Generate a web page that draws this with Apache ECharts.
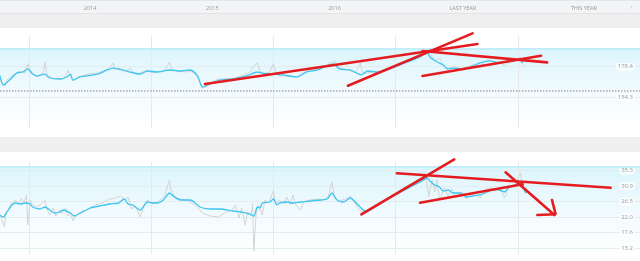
<!DOCTYPE html>
<html><head><meta charset="utf-8">
<script src="https://cdn.jsdelivr.net/npm/echarts@6/dist/echarts.min.js"></script>
<style>html,body{margin:0;padding:0;background:#fff}#c{width:640px;height:261px}</style>
</head><body><div id="c"></div>
<script>
// ---- period header labels ----
const periodLabels = ['2014', '2015', '2016', 'LAST YEAR', 'THIS YEAR'];
const periodLabelPos = [2014.5, 2015.5, 2016.5, 2017.55, 2018.54];
const yearStarts = [2014, 2015, 2016, 2017, 2018];

// ---- axis ticks ----
const priceTicks = [154.3, 178.4];
const peTicks = [13.2, 17.62, 22.04, 26.46, 30.88, 35.3];
const priceRange = [130.2, 202.5];
const peRange = [11.49, 38.01];
const timeRange = [2013.763, 2019.0];

// ---- reference levels ----
const priceDotted = 159.3;
const priceBandTop = 192.3;
const peBandTop = 36.35;

// ---- price (top) ----
const priceAvg = [[2013.76,171.9],[2013.79,164.0],[2013.85,168.7],[2013.90,173.4],[2013.95,174.2],[2013.99,176.6],[2014.03,172.6],[2014.07,171.1],[2014.13,172.6],[2014.17,169.5],[2014.25,168.7],[2014.31,170.3],[2014.34,172.6],[2014.36,167.9],[2014.42,170.3],[2014.56,172.6],[2014.64,175.8],[2014.69,177.3],[2014.77,175.8],[2014.83,174.2],[2014.91,172.6],[2014.97,175.0],[2015.05,174.2],[2015.10,175.0],[2015.15,175.8],[2015.24,175.0],[2015.32,175.8],[2015.38,171.1],[2015.42,162.4],[2015.48,164.8],[2015.56,167.9],[2015.67,168.7],[2015.78,171.1],[2015.87,174.2],[2015.91,173.4],[2016.00,172.6],[2016.08,171.9],[2016.19,170.3],[2016.27,174.2],[2016.36,175.8],[2016.49,180.5],[2016.54,176.6],[2016.63,175.8],[2016.68,173.4],[2016.72,171.9],[2016.77,175.0],[2016.85,174.2],[2016.93,175.8],[2017.01,178.9],[2017.12,182.9],[2017.20,186.0],[2017.26,189.9],[2017.28,186.0],[2017.34,182.1],[2017.39,179.7],[2017.43,176.6],[2017.47,177.3],[2017.53,176.6],[2017.61,178.1],[2017.69,181.3],[2017.77,182.9],[2017.85,181.3],[2017.91,182.1],[2018.02,183.6],[2018.04,181.3]];
const priceRaw = [[2013.76,171.1],[2013.78,166.3],[2013.80,163.2],[2013.82,167.9],[2013.85,170.3],[2013.88,172.6],[2013.91,174.2],[2013.94,175.0],[2013.97,173.4],[2013.99,180.5],[2014.01,175.8],[2014.03,173.4],[2014.06,170.3],[2014.09,171.9],[2014.12,174.2],[2014.13,182.1],[2014.15,170.3],[2014.17,171.1],[2014.21,168.7],[2014.24,169.5],[2014.27,167.9],[2014.30,171.1],[2014.32,175.8],[2014.34,171.1],[2014.36,167.1],[2014.39,169.5],[2014.42,171.1],[2014.46,171.9],[2014.50,172.6],[2014.56,173.4],[2014.61,175.0],[2014.65,176.6],[2014.67,178.9],[2014.69,181.3],[2014.70,176.6],[2014.75,175.8],[2014.79,174.2],[2014.83,177.3],[2014.85,173.4],[2014.89,172.6],[2014.93,174.2],[2014.97,175.8],[2015.01,173.4],[2015.05,175.0],[2015.09,174.2],[2015.12,176.6],[2015.15,182.1],[2015.17,175.8],[2015.22,175.0],[2015.28,174.2],[2015.32,175.0],[2015.36,172.6],[2015.39,167.9],[2015.42,161.6],[2015.46,163.2],[2015.50,166.3],[2015.54,168.7],[2015.58,168.7],[2015.63,168.7],[2015.69,169.5],[2015.73,171.1],[2015.77,172.6],[2015.81,174.2],[2015.84,178.9],[2015.87,181.3],[2015.89,175.0],[2015.93,172.6],[2015.97,174.2],[2016.00,180.5],[2016.02,174.2],[2016.05,171.1],[2016.09,171.1],[2016.14,171.1],[2016.19,170.3],[2016.23,172.6],[2016.27,175.0],[2016.32,175.8],[2016.36,176.6],[2016.42,178.1],[2016.46,181.3],[2016.50,182.9],[2016.53,178.1],[2016.57,176.6],[2016.61,175.8],[2016.65,174.2],[2016.68,175.0],[2016.71,181.3],[2016.73,173.4],[2016.77,173.4],[2016.82,174.2],[2016.87,175.0],[2016.93,176.6],[2016.99,178.9],[2017.08,182.1],[2017.16,185.2],[2017.22,188.4],[2017.26,190.7],[2017.29,187.6],[2017.32,182.9],[2017.36,185.2],[2017.39,178.9],[2017.42,175.8],[2017.44,177.3],[2017.49,178.9],[2017.53,175.8],[2017.57,178.1],[2017.61,178.9],[2017.65,180.5],[2017.69,178.9],[2017.73,182.1],[2017.77,183.6],[2017.81,180.5],[2017.85,182.1],[2017.89,178.9],[2017.94,182.9],[2017.98,183.6],[2018.02,186.0],[2018.03,181.3],[2018.06,178.1]];
const priceTrend = [
  [[2015.44,164.8],[2017.67,196.2]],
  [[2016.61,163.4],[2017.63,204.6]],
  [[2017.22,190.7],[2018.24,181.8]],
  [[2017.22,171.1],[2018.19,187.0]]
];

// ---- P/E (bottom) ----
const peAvg = [[2013.76,22.61],[2013.79,22.04],[2013.82,23.47],[2013.86,25.46],[2013.89,26.03],[2013.93,25.75],[2013.97,26.03],[2014.01,25.75],[2014.03,24.89],[2014.09,24.32],[2014.13,24.89],[2014.17,24.04],[2014.21,23.18],[2014.25,23.47],[2014.28,24.04],[2014.34,23.18],[2014.37,22.33],[2014.42,23.18],[2014.50,24.61],[2014.58,25.18],[2014.66,25.75],[2014.73,26.03],[2014.78,27.17],[2014.81,25.75],[2014.85,25.46],[2014.91,24.04],[2014.97,26.32],[2015.01,26.03],[2015.05,26.03],[2015.10,26.89],[2015.15,28.89],[2015.18,28.03],[2015.24,26.89],[2015.32,26.89],[2015.40,24.89],[2015.48,24.32],[2015.56,24.32],[2015.67,23.75],[2015.73,23.47],[2015.78,23.18],[2015.82,22.61],[2015.84,22.33],[2015.87,24.89],[2015.89,24.61],[2015.91,26.03],[2015.97,26.32],[2016.00,27.17],[2016.03,25.46],[2016.05,26.03],[2016.11,26.32],[2016.16,26.03],[2016.22,26.32],[2016.30,26.60],[2016.38,26.89],[2016.44,27.17],[2016.48,28.89],[2016.52,26.89],[2016.57,26.32],[2016.63,27.46],[2016.67,26.32],[2016.71,24.89],[2016.75,23.75],[2016.79,24.04],[2016.87,25.75],[2016.95,27.46],[2017.03,28.89],[2017.12,30.60],[2017.20,32.02],[2017.26,33.16],[2017.28,32.31],[2017.32,31.17],[2017.36,30.60],[2017.39,29.46],[2017.43,29.74],[2017.47,28.89],[2017.53,28.89],[2017.58,27.74],[2017.63,28.03],[2017.69,28.32],[2017.75,29.17],[2017.80,30.03],[2017.85,29.74],[2017.89,29.17],[2017.93,30.60],[2017.99,31.17],[2018.03,31.74],[2018.06,29.17],[2018.07,28.89]];
const peRaw = [[2013.76,22.90],[2013.78,21.19],[2013.80,19.19],[2013.81,22.90],[2013.84,24.61],[2013.86,26.03],[2013.89,26.89],[2013.91,25.46],[2013.94,27.46],[2013.96,26.03],[2013.98,28.32],[2013.99,19.76],[2014.01,26.89],[2014.03,25.46],[2014.07,24.89],[2014.10,25.75],[2014.13,26.89],[2014.15,24.04],[2014.17,22.61],[2014.20,24.61],[2014.22,22.33],[2014.25,24.04],[2014.27,22.90],[2014.30,24.61],[2014.32,22.33],[2014.34,23.18],[2014.36,20.90],[2014.39,22.61],[2014.43,23.47],[2014.48,24.04],[2014.54,25.46],[2014.60,26.03],[2014.66,27.17],[2014.71,27.46],[2014.75,28.03],[2014.79,26.89],[2014.81,27.74],[2014.84,24.32],[2014.87,25.18],[2014.91,22.04],[2014.94,25.18],[2014.97,26.89],[2015.01,25.75],[2015.06,26.60],[2015.10,27.46],[2015.12,29.17],[2015.15,32.59],[2015.16,29.74],[2015.20,27.46],[2015.24,27.17],[2015.30,26.60],[2015.37,25.18],[2015.42,23.18],[2015.48,22.33],[2015.55,22.04],[2015.60,23.18],[2015.66,24.04],[2015.69,25.46],[2015.72,21.76],[2015.74,24.61],[2015.77,19.76],[2015.79,23.47],[2015.82,22.90],[2015.83,26.03],[2015.84,12.35],[2015.86,23.47],[2015.88,25.46],[2015.91,22.61],[2015.93,26.89],[2015.96,26.03],[2016.00,29.46],[2016.02,25.46],[2016.05,26.89],[2016.09,25.75],[2016.11,27.74],[2016.14,25.46],[2016.16,28.32],[2016.18,25.75],[2016.22,24.04],[2016.25,26.32],[2016.30,26.89],[2016.36,27.17],[2016.40,26.60],[2016.45,28.03],[2016.48,32.02],[2016.50,27.46],[2016.54,26.60],[2016.59,27.17],[2016.63,28.03],[2016.67,25.75],[2016.71,23.75],[2016.76,23.18],[2016.81,24.32],[2016.87,26.03],[2016.95,27.74],[2017.03,29.46],[2017.12,31.45],[2017.17,31.74],[2017.22,32.88],[2017.25,33.45],[2017.27,27.74],[2017.30,32.59],[2017.32,29.17],[2017.34,32.59],[2017.36,26.89],[2017.40,30.31],[2017.43,28.03],[2017.46,30.03],[2017.49,27.74],[2017.54,29.17],[2017.58,27.17],[2017.62,28.60],[2017.67,28.03],[2017.69,27.46],[2017.73,29.74],[2017.77,30.31],[2017.81,29.46],[2017.85,30.31],[2017.88,28.60],[2017.89,27.46],[2017.92,30.03],[2017.95,30.88],[2017.98,31.45],[2018.02,34.59],[2018.04,30.60],[2018.07,28.89]];
const peTrend = [
  [[2016.72,22.81],[2017.48,38.49]],
  [[2017.01,34.50],[2018.76,30.40]],
  [[2017.20,26.12],[2018.04,31.37]],
  [[2017.90,34.79],[2018.30,22.61]],
  [[2018.16,22.61],[2018.31,22.81],[2018.28,26.89]]
];

const FONT = '"Open Sans", "DejaVu Sans", sans-serif';
const chart = echarts.init(document.getElementById('c'), null, {renderer: 'canvas'});

function bandGradient() {
  return new echarts.graphic.LinearGradient(0, 0, 0, 1, [
    {offset: 0, color: '#dcf5fd'},
    {offset: 0.55, color: '#f2fbfe'},
    {offset: 1, color: '#ffffff'}
  ]);
}
function xAxisFor(idx, withLabels) {
  return {
    type: 'value', gridIndex: idx, min: timeRange[0], max: timeRange[1],
    position: 'top', z: 1,
    axisLine: {show: false},
    axisTick: {show: false, customValues: yearStarts},
    splitLine: {show: true, lineStyle: {color: '#e8e8e8', width: 1}},
    axisLabel: withLabels ? {
      show: true, customValues: periodLabelPos, margin: 25,
      color: '#999', fontSize: 5.5, fontFamily: FONT,
      formatter: function (v) {
        let best = 0;
        periodLabelPos.forEach((p, i) => { if (Math.abs(p - v) < Math.abs(periodLabelPos[best] - v)) best = i; });
        return periodLabels[best];
      }
    } : {show: false}
  };
}
function yAxisFor(idx, range, ticks) {
  return {
    type: 'value', gridIndex: idx, min: range[0], max: range[1], position: 'right', z: 1,
    axisLine: {show: false},
    axisTick: {show: false, customValues: ticks},
    splitLine: {show: true, lineStyle: {color: '#e3edf1', width: 1}},
    axisLabel: {
      inside: true, customValues: ticks, margin: 5, color: '#9a9a9a', fontSize: 6, fontFamily: FONT,
      backgroundColor: 'rgba(255,255,255,0.75)', borderRadius: 4, padding: [1, 2],
      formatter: v => v.toFixed(1)
    }
  };
}
function trendSeries(strokes, idx) {
  return strokes.map(s => ({
    type: 'line', xAxisIndex: idx, yAxisIndex: idx, data: s, symbol: 'none', clip: false,
    silent: true, z: 6, lineStyle: {color: '#e51c1f', width: 2.6, cap: 'round'}
  }));
}

const series = [
  {
    type: 'line', xAxisIndex: 0, yAxisIndex: 0, data: [], symbol: 'none', z: -5, silent: true,
    markArea: {silent: true, z: -5, itemStyle: {color: bandGradient()}, data: [[{yAxis: priceBandTop}, {yAxis: priceRange[0]}]]},
    markLine: {silent: true, symbol: 'none', z: 2, label: {show: false}, data: [
      {yAxis: priceBandTop, lineStyle: {color: '#c4edfa', width: 2, type: 'solid'}},
      {yAxis: priceDotted, lineStyle: {color: '#a9a9a9', width: 1.5, type: [1.5, 1.5]}}
    ]}
  },
  {
    type: 'line', xAxisIndex: 1, yAxisIndex: 1, data: [], symbol: 'none', z: -5, silent: true,
    markArea: {silent: true, z: -5, itemStyle: {color: bandGradient()}, data: [[{yAxis: peBandTop}, {yAxis: peRange[0]}]]},
    markLine: {silent: true, symbol: 'none', z: 2, label: {show: false}, data: [
      {yAxis: peBandTop, lineStyle: {color: '#c4edfa', width: 2, type: 'solid'}}
    ]}
  },
  {type: 'line', xAxisIndex: 0, yAxisIndex: 0, data: priceRaw, symbol: 'none', z: 3, lineStyle: {color: '#d4d4d4', width: 1}},
  {type: 'line', xAxisIndex: 0, yAxisIndex: 0, data: priceAvg, symbol: 'none', smooth: 0.25, z: 4, lineStyle: {color: '#3ec5f1', width: 1.3}},
  {type: 'line', xAxisIndex: 1, yAxisIndex: 1, data: peRaw, symbol: 'none', z: 3, lineStyle: {color: '#d4d4d4', width: 1}},
  {type: 'line', xAxisIndex: 1, yAxisIndex: 1, data: peAvg, symbol: 'none', smooth: 0.25, z: 4, lineStyle: {color: '#3ec5f1', width: 1.3}}
].concat(trendSeries(priceTrend, 0), trendSeries(peTrend, 1));

chart.setOption({
  animation: false,
  backgroundColor: '#ffffff',
  graphic: [
    {type: 'rect', z: -10, shape: {x: 0, y: 0, width: 640, height: 13}, style: {fill: '#f3f4f6'}},
    {type: 'line', z: -9, shape: {x1: 0, y1: 0.5, x2: 640, y2: 0.5}, style: {stroke: '#e4e6e9', lineWidth: 1}},
    {type: 'line', z: -9, shape: {x1: 0, y1: 13.5, x2: 640, y2: 13.5}, style: {stroke: '#e1e3e6', lineWidth: 1}},
    {type: 'rect', z: -10, shape: {x: 0, y: 14, width: 640, height: 14}, style: {fill: '#efefef'}},
    {type: 'rect', z: -10, shape: {x: 0, y: 137, width: 640, height: 15}, style: {fill: '#efefef'}},
    {type: 'text', z: -8, x: 630, y: 3, style: {text: '›', fill: '#c8c8c8', fontSize: 8, fontFamily: FONT}}
  ],
  grid: [
    {left: 0, right: 0, top: 36, bottom: 133},
    {left: 0, right: 0, top: 161, bottom: 7}
  ],
  xAxis: [xAxisFor(0, true), xAxisFor(1, false)],
  yAxis: [yAxisFor(0, priceRange, priceTicks), yAxisFor(1, peRange, peTicks)],
  series: series
});
</script></body></html>
